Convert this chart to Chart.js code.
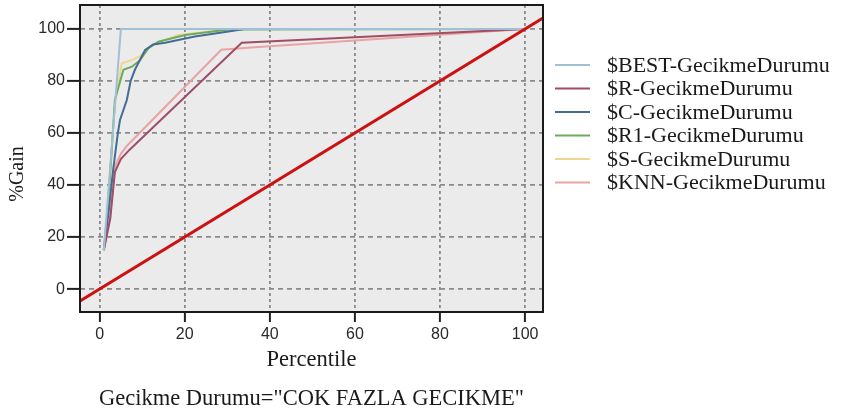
<!DOCTYPE html>
<html>
<head>
<meta charset="utf-8">
<script src="https://cdn.jsdelivr.net/npm/chart.js@4"></script>
<style>
  html, body { margin: 0; padding: 0; background: #fff; }
  #wrap { width: 846px; height: 414px; }
</style>
</head>
<body>
<div id="wrap"><canvas id="c" width="846" height="414"></canvas></div>
<script>
// Tick values for both axes
const xTicks = [0, 20, 40, 60, 80, 100];
const yTicks = [0, 20, 40, 60, 80, 100];

// Cumulative gain curves (percentile -> % gain)
const bestX = [1, 5, 100];
const bestY = [15, 100, 100];

const rX = [1, 2.5, 3.6, 5, 7, 33.4, 100];
const rY = [15, 27, 45, 50, 53.5, 94.7, 100];

const cX = [1, 2, 3.2, 4.3, 4.8, 6.4, 7.3, 8.3, 10.7, 12.6, 15.4, 22.4, 30.3, 34, 100];
const cY = [15, 28, 46, 60, 65, 72.7, 80, 84.3, 91.9, 94, 94.7, 97.1, 99, 100, 100];

const r1X = [1, 1.7, 2.4, 3.6, 5.6, 7.6, 9.5, 11.5, 13.8, 20.1, 30.3, 100];
const r1Y = [15, 27, 42, 72.7, 84.3, 85.5, 88, 92.6, 95.1, 97.7, 99.8, 100];

const sX = [1, 1.7, 2.3, 3.7, 5.2, 7.6, 9.5, 12.2, 18.5, 31.6, 100];
const sY = [15, 27, 42, 72.7, 86.8, 88, 89.5, 93.8, 97.7, 100, 100];

const knnX = [1, 2.5, 3.6, 5, 6.4, 28.6, 36.5, 100];
const knnY = [15, 28, 47, 52, 55, 92, 93, 100];

// Random-model baseline (gain equals percentile)
const baseX = [-10, 110];
const baseY = [-10, 110];

const seriesNames = [
  '$BEST-GecikmeDurumu',
  '$R-GecikmeDurumu',
  '$C-GecikmeDurumu',
  '$R1-GecikmeDurumu',
  '$S-GecikmeDurumu',
  '$KNN-GecikmeDurumu'
];
const seriesColors = ['#9fc0d6', '#a04d66', '#456c94', '#6aac5c', '#f2d690', '#e8a3a3'];
const seriesX = [bestX, rX, cX, r1X, sX, knnX];
const seriesY = [bestY, rY, cY, r1Y, sY, knnY];

const toPoints = (xs, ys) => xs.map((x, i) => ({ x: x, y: ys[i] }));

const datasets = [{
  label: 'baseline',
  data: toPoints(baseX, baseY),
  borderColor: '#cc1111',
  borderWidth: 3,
  pointRadius: 0,
  tension: 0
}];
seriesNames.forEach((name, i) => {
  datasets.push({
    label: name,
    data: toPoints(seriesX[i], seriesY[i]),
    borderColor: seriesColors[i],
    borderWidth: 2,
    pointRadius: 0,
    tension: 0
  });
});

const serif = '"Liberation Serif", "DejaVu Serif", serif';

const framePlugin = {
  id: 'frame',
  beforeDraw(chart) {
    const { ctx, chartArea: a } = chart;
    ctx.save();
    ctx.fillStyle = '#ffffff';
    ctx.fillRect(0, 0, chart.width, chart.height);
    ctx.fillStyle = '#ebebeb';
    ctx.fillRect(a.left, a.top, a.right - a.left, a.bottom - a.top);
    ctx.restore();
  },
  afterDraw(chart) {
    const { ctx, chartArea: a } = chart;
    ctx.save();
    // plot frame
    ctx.strokeStyle = '#1a1a1a';
    ctx.lineWidth = 2;
    ctx.strokeRect(a.left, a.top, a.right - a.left, a.bottom - a.top);

    // axis titles
    ctx.fillStyle = '#1a1a1a';
    ctx.textAlign = 'center';
    ctx.textBaseline = 'middle';
    ctx.font = '22.5px ' + serif;
    ctx.fillText('Percentile', (a.left + a.right) / 2, 360);
    ctx.fillText('Gecikme Durumu="COK FAZLA GECIKME"', (a.left + a.right) / 2, 399);
    ctx.save();
    ctx.translate(18, 174);
    ctx.rotate(-Math.PI / 2);
    ctx.font = '20px ' + serif;
    ctx.fillText('%Gain', 0, 0);
    ctx.restore();

    // legend
    ctx.textAlign = 'left';
    ctx.font = '22px ' + serif;
    chart.data.datasets.slice(1).forEach((ds, i) => {
      const y = a.top + 60 + i * 23.5;
      ctx.strokeStyle = ds.borderColor;
      ctx.lineWidth = 2;
      ctx.beginPath();
      ctx.moveTo(a.right + 12, y);
      ctx.lineTo(a.right + 47, y);
      ctx.stroke();
      ctx.fillStyle = '#1a1a1a';
      ctx.fillText(ds.label, a.right + 64, y + 1);
    });
    ctx.restore();
  }
};

new Chart(document.getElementById('c'), {
  type: 'line',
  data: { datasets: datasets },
  options: {
    responsive: false,
    animation: false,
    devicePixelRatio: 1,
    layout: { padding: { left: 0, top: 5, right: 303, bottom: 0 } },
    plugins: { legend: { display: false }, tooltip: { enabled: false } },
    scales: {
      x: {
        type: 'linear',
        min: -4.6,
        max: 104.2,
        afterBuildTicks: (s) => { s.ticks = xTicks.map(v => ({ value: v })); },
        afterFit: (s) => { s.height = 102; s.paddingLeft = 0; s.paddingRight = 0; },
        ticks: { color: '#2a2a2a', font: { family: '"Liberation Sans", Arial, sans-serif', size: 16 }, padding: 3, maxRotation: 0 },
        grid: { color: '#8a8a8a', lineWidth: 1.8, tickColor: '#222', tickWidth: 2, tickLength: 10 },
        border: { display: false, dash: [3, 3] }
      },
      y: {
        type: 'linear',
        min: -8.8,
        max: 109.2,
        afterBuildTicks: (s) => { s.ticks = yTicks.map(v => ({ value: v })); },
        afterFit: (s) => { s.width = 80; s.paddingTop = 0; s.paddingBottom = 0; },
        ticks: { color: '#2a2a2a', font: { family: '"Liberation Sans", Arial, sans-serif', size: 16 }, padding: 2 },
        grid: { color: '#8a8a8a', lineWidth: 1.8, tickColor: '#222', tickWidth: 2, tickLength: 13 },
        border: { display: false, dash: [5, 4] }
      }
    }
  },
  plugins: [framePlugin]
});
</script>
</body>
</html>
